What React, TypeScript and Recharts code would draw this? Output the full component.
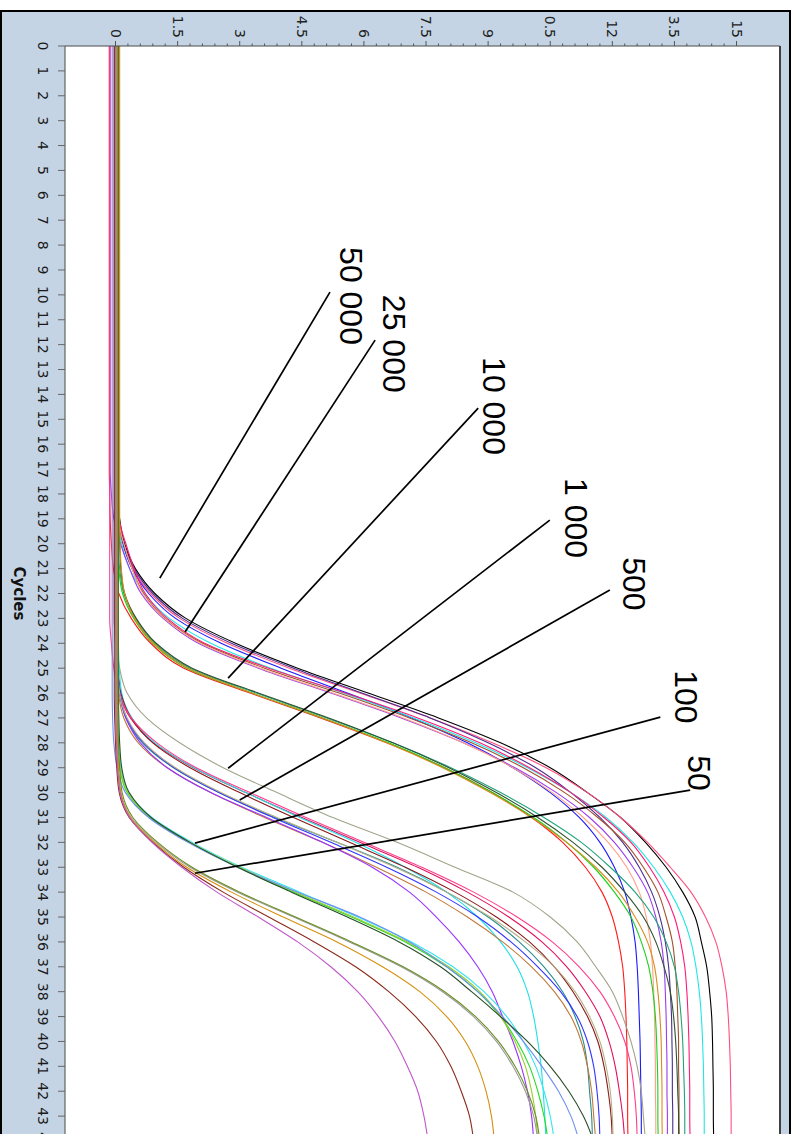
import { LineChart, Line, XAxis, YAxis, CartesianGrid, ReferenceLine, ReferenceDot } from "recharts";

// cycles on the x axis, fluorescence on the y axis (the whole chart is turned 90deg clockwise)
const cycles = [
  0, 1, 2, 3, 4, 5, 6, 7, 8, 9, 10, 11, 12, 13, 14, 15, 16, 17, 18, 19, 20, 21,
  22, 23, 24, 25, 26, 27, 28, 29, 30, 31, 32, 33, 34, 35, 36, 37, 38, 39, 40, 41, 42, 43, 44,
];
const valueTicks = [0, 1.5, 3, 4.5, 6, 7.5, 9, 10.5, 12, 13.5, 15];

// 50 000 / 25 000 / 10 000 copies
const t1 = [0.05,0.05,0.05,0.05,0.05,0.05, 0.05,0.05,0.05,0.05,0.05,0.05, 0.05,0.05,0.05,0.05,0.05,0.05, 0.06,0.1,0.22,0.48,0.95,1.7,2.9,4.4,6.1,7.8,9.3,10.5,11.4,12.2,12.8,13.3,13.7,14.0,14.15,14.28,14.35,14.4,14.42,14.43,14.44,14.44,14.45];
const t2 = [0.02,0.02,0.02,0.02,0.02,0.02, 0.02,0.02,0.02,0.02,0.02,0.02, 0.02,0.02,0.02,0.02,0.02,0.02, 0.04,0.08,0.18,0.42,0.85,1.55,2.7,4.2,5.9,7.6,9.1,10.4,11.4,12.2,12.85,13.4,13.9,14.25,14.5,14.65,14.75,14.8,14.83,14.85,14.86,14.87,14.87];
const t3 = [0,0,0,0,0,0, 0,0,0,0,0,0, 0,0,0,0,0,0, 0.02,0.07,0.18,0.4,0.8,1.45,2.55,4.0,5.6,7.15,8.5,9.6,10.5,11.2,11.7,12.05,12.3,12.45,12.55,12.6,12.63,12.65,12.67,12.68,12.69,12.7,12.7];
const t4 = [0.03,0.03,0.03,0.03,0.03,0.03, 0.03,0.03,0.03,0.03,0.03,0.03, 0.03,0.03,0.03,0.03,0.03,0.03, 0.05,0.09,0.2,0.45,0.9,1.62,2.8,4.3,5.95,7.6,9.0,10.15,11.0,11.7,12.25,12.65,12.95,13.15,13.28,13.36,13.4,13.43,13.44,13.45,13.45,13.46,13.46];
const t5 = [0.04,0.04,0.04,0.04,0.04,0.04, 0.04,0.04,0.04,0.04,0.04,0.04, 0.04,0.04,0.04,0.04,0.04,0.04, 0.05,0.07,0.15,0.34,0.7,1.3,2.3,3.75,5.5,7.2,8.7,9.95,11.0,11.85,12.5,13.0,13.4,13.7,13.9,14.02,14.1,14.15,14.18,14.2,14.21,14.22,14.22];
const t6 = [0.06,0.06,0.06,0.06,0.06,0.06, 0.06,0.06,0.06,0.06,0.06,0.06, 0.06,0.06,0.06,0.06,0.06,0.06, 0.07,0.09,0.25,0.45,0.72,1.25,2.15,3.7,5.55,7.3,8.8,10.0,11.0,11.8,12.45,12.9,13.25,13.5,13.65,13.75,13.8,13.83,13.85,13.86,13.87,13.87,13.88];
const t7 = [0.01,0.01,0.01,0.01,0.01,0.01, 0.01,0.01,0.01,0.01,0.01,0.01, 0.01,0.01,0.01,0.01,0.01,0.01, 0.02,0.05,0.2,0.4,0.68,1.2,2.1,3.6,5.4,7.1,8.6,9.85,10.85,11.65,12.3,12.75,13.1,13.3,13.45,13.52,13.56,13.58,13.6,13.6,13.61,13.61,13.62];
const t8 = [-0.13,-0.13,-0.13,-0.13,-0.13,-0.13, -0.13,-0.13,-0.13,-0.13,-0.13,-0.13, -0.13,-0.13,-0.13,-0.13,-0.13,-0.13, -0.1,-0.04,0.12,0.34,0.62,1.15,2.0,3.45,5.2,6.9,8.4,9.65,10.65,11.45,12.05,12.5,12.85,13.05,13.18,13.25,13.28,13.3,13.31,13.32,13.32,13.33,13.33];
const t9 = [0.04,0.04,0.04,0.04,0.04,0.04, 0.04,0.04,0.04,0.04,0.04,0.04, 0.04,0.04,0.04,0.04,0.04,0.04, 0.05,0.07,0.2,0.4,0.66,1.18,2.05,3.5,5.25,6.95,8.4,9.6,10.55,11.3,11.9,12.35,12.65,12.82,12.92,12.97,13.0,13.02,13.03,13.04,13.04,13.05,13.05];
const t10 = [-0.15,-0.15,-0.15,-0.15,-0.15,-0.15, -0.15,-0.15,-0.15,-0.15,-0.15,-0.15, -0.15,-0.15,-0.15,-0.15,-0.15,-0.15, -0.14,-0.13,-0.1,-0.05,0.08,0.38,0.85,1.65,3.25,4.95,6.55,7.95,9.1,10.05,10.8,11.35,11.75,12.0,12.15,12.25,12.3,12.33,12.35,12.36,12.37,12.37,12.38];
const t11 = [0.02,0.02,0.02,0.02,0.02,0.02, 0.02,0.02,0.02,0.02,0.02,0.02, 0.02,0.02,0.02,0.02,0.02,0.02, 0.03,0.04,0.06,0.1,0.2,0.48,0.95,1.8,3.4,5.1,6.7,8.1,9.3,10.35,11.25,11.95,12.55,13.0,13.3,13.5,13.6,13.66,13.7,13.72,13.74,13.75,13.75];
const t12 = [0.08,0.08,0.08,0.08,0.08,0.08, 0.08,0.08,0.08,0.08,0.08,0.08, 0.08,0.08,0.08,0.08,0.08,0.08, 0.08,0.09,0.1,0.13,0.22,0.5,0.98,1.85,3.45,5.15,6.7,8.05,9.2,10.2,11.05,11.75,12.3,12.75,13.05,13.25,13.4,13.48,13.53,13.56,13.58,13.6,13.6];
const t13 = [0,0,0,0,0,0, 0,0,0,0,0,0, 0,0,0,0,0,0, 0.01,0.02,0.05,0.08,0.17,0.44,0.9,1.72,3.3,5.0,6.6,7.95,9.1,10.1,10.9,11.55,12.05,12.45,12.7,12.88,12.98,13.04,13.07,13.09,13.1,13.1,13.11];
const t14 = [0.1,0.1,0.1,0.1,0.1,0.1, 0.1,0.1,0.1,0.1,0.1,0.1, 0.1,0.1,0.1,0.1,0.1,0.1, 0.1,0.1,0.11,0.14,0.22,0.46,0.92,1.75,3.3,5.0,6.55,7.9,9.05,10.05,10.9,11.6,12.15,12.55,12.85,13.02,13.1,13.15,13.18,13.19,13.2,13.2,13.21];

// 1 000 / 500 copies
const m1 = [0.02,0.02,0.02,0.02,0.02,0.02, 0.02,0.02,0.02,0.02,0.02,0.02, 0.02,0.02,0.02,0.02,0.02,0.02, 0.02,0.02,0.02,0.02,0.02,0.02, 0.04,0.1,0.28,0.75,1.55,2.6,3.9,5.25,6.8,8.2,9.6,10.5,11.15,11.6,12.0,12.25,12.45,12.6,12.7,12.75,12.8];
const m2 = [-0.03,-0.03,-0.03,-0.03,-0.03,-0.03, -0.03,-0.03,-0.03,-0.03,-0.03,-0.03, -0.03,-0.03,-0.03,-0.03,-0.03,-0.03, -0.03,-0.03,-0.03,-0.03,-0.03,-0.03, 0.0,0.03,0.1,0.36,0.92,1.88,3.15,4.5,5.9,7.3,8.5,9.5,10.3,10.9,11.35,11.7,11.92,12.07,12.17,12.25,12.3];
const m3 = [0.06,0.06,0.06,0.06,0.06,0.06, 0.06,0.06,0.06,0.06,0.06,0.06, 0.06,0.06,0.06,0.06,0.06,0.06, 0.06,0.06,0.06,0.06,0.06,0.06, 0.07,0.09,0.15,0.4,0.95,1.9,3.15,4.45,5.8,7.0,8.0,8.75,9.3,9.7,9.95,10.1,10.2,10.28,10.33,10.37,10.4];
const m4 = [0,0,0,0,0,0, 0,0,0,0,0,0, 0,0,0,0,0,0, 0,0,0,0,0,0, 0.02,0.05,0.13,0.38,0.9,1.8,3.0,4.3,5.65,7.0,8.2,9.2,10.0,10.6,11.05,11.4,11.65,11.8,11.9,11.97,12.0];
const m5 = [-0.14,-0.14,-0.14,-0.14,-0.14,-0.14, -0.14,-0.14,-0.14,-0.14,-0.14,-0.14, -0.14,-0.14,-0.14,-0.14,-0.14,-0.14, -0.14,-0.14,-0.14,-0.14,-0.14,-0.14, -0.1,-0.04,0.08,0.38,1.0,1.95,3.25,4.6,6.0,7.4,8.65,9.7,10.55,11.2,11.7,12.05,12.3,12.45,12.53,12.58,12.6];
const m6 = [0.03,0.03,0.03,0.03,0.03,0.03, 0.03,0.03,0.03,0.03,0.03,0.03, 0.03,0.03,0.03,0.03,0.03,0.03, 0.03,0.03,0.03,0.03,0.03,0.03, 0.03,0.05,0.1,0.25,0.65,1.4,2.5,3.85,5.35,6.8,8.0,9.0,9.75,10.35,10.8,11.1,11.3,11.4,11.45,11.5,11.52];
const m7 = [-0.01,-0.01,-0.01,-0.01,-0.01,-0.01, -0.01,-0.01,-0.01,-0.01,-0.01,-0.01, -0.01,-0.01,-0.01,-0.01,-0.01,-0.01, -0.01,-0.01,-0.01,-0.01,-0.01,-0.01, 0.0,0.02,0.07,0.2,0.55,1.25,2.3,3.6,5.0,6.3,7.5,8.5,9.35,10.05,10.6,11.0,11.25,11.4,11.5,11.55,11.6];
const m8 = [0.05,0.05,0.05,0.05,0.05,0.05, 0.05,0.05,0.05,0.05,0.05,0.05, 0.05,0.05,0.05,0.05,0.05,0.05, 0.05,0.05,0.05,0.05,0.05,0.05, 0.05,0.06,0.1,0.25,0.6,1.25,2.3,3.65,5.0,6.2,7.1,7.75,8.3,8.75,9.1,9.35,9.6,9.8,9.95,10.05,10.1];
const m9 = [0.04,0.04,0.04,0.04,0.04,0.04, 0.04,0.04,0.04,0.04,0.04,0.04, 0.04,0.04,0.04,0.04,0.04,0.04, 0.04,0.04,0.04,0.04,0.04,0.04, 0.04,0.06,0.11,0.27,0.68,1.42,2.5,3.8,5.2,6.55,7.75,8.75,9.55,10.2,10.75,11.15,11.4,11.55,11.63,11.68,11.7];
const m10 = [0.03,0.03,0.03,0.03,0.03,0.03, 0.03,0.03,0.03,0.03,0.03,0.03, 0.03,0.03,0.03,0.03,0.03,0.03, 0.03,0.03,0.03,0.03,0.03,0.03, 0.03,0.05,0.1,0.28,0.7,1.45,2.55,3.9,5.35,6.75,8.0,9.05,9.9,10.6,11.1,11.45,11.7,11.85,11.95,12.0,12.02];

// 100 / 50 copies
const b1 = [0.05,0.05,0.05,0.05,0.05,0.05, 0.05,0.05,0.05,0.05,0.05,0.05, 0.05,0.05,0.05,0.05,0.05,0.05, 0.05,0.05,0.05,0.05,0.05,0.05, 0.05,0.05,0.05, 0.06,0.08,0.13,0.32,0.88,1.85,3.05,4.45,5.85,7.15,8.15,8.9,9.45,9.85,10.15,10.35,10.5,10.6];
const b2 = [0,0,0,0,0,0, 0,0,0,0,0,0, 0,0,0,0,0,0, 0,0,0,0,0,0, 0,0,0, 0.01,0.03,0.1,0.28,0.82,1.78,2.95,4.3,5.7,7.0,8.0,8.75,9.3,9.7,10.0,10.2,10.35,10.45];
const b3 = [0.03,0.03,0.03,0.03,0.03,0.03, 0.03,0.03,0.03,0.03,0.03,0.03, 0.03,0.03,0.03,0.03,0.03,0.03, 0.03,0.03,0.03,0.03,0.03,0.03, 0.03,0.03,0.03, 0.04,0.06,0.11,0.3,0.84,1.8,3.0,4.35,5.75,7.05,8.05,8.8,9.3,9.65,9.9,10.05,10.15,10.2];
const b4 = [-0.08,-0.08,-0.08,-0.08,-0.08,-0.08, -0.08,-0.08,-0.08,-0.08,-0.08,-0.08, -0.08,-0.08,-0.08,-0.08,-0.08,-0.08, -0.08,-0.08,-0.08,-0.08,-0.08,-0.08, -0.08,-0.08,-0.08, -0.07,-0.04,0.04,0.24,0.8,1.75,2.95,4.4,5.9,7.1,8.0,8.75,9.35,9.85,10.3,10.7,11.0,11.2];
const b5 = [0.07,0.07,0.07,0.07,0.07,0.07, 0.07,0.07,0.07,0.07,0.07,0.07, 0.07,0.07,0.07,0.07,0.07,0.07, 0.07,0.07,0.07,0.07,0.07,0.07, 0.07,0.07,0.07, 0.08,0.1,0.15,0.33,0.86,1.8,2.95,4.25,5.6,6.85,7.85,8.6,9.3,9.95,10.5,10.95,11.3,11.55];
const b6 = [0.02,0.02,0.02,0.02,0.02,0.02, 0.02,0.02,0.02,0.02,0.02,0.02, 0.02,0.02,0.02,0.02,0.02,0.02, 0.02,0.02,0.02,0.02,0.02,0.02, 0.02,0.02,0.02, 0.02,0.03,0.06,0.12,0.38,0.98,1.8,2.95,4.3,5.65,6.9,7.9,8.65,9.2,9.6,9.9,10.1,10.2];
const b7 = [0.04,0.04,0.04,0.04,0.04,0.04, 0.04,0.04,0.04,0.04,0.04,0.04, 0.04,0.04,0.04,0.04,0.04,0.04, 0.04,0.04,0.04,0.04,0.04,0.04, 0.04,0.04,0.04, 0.04,0.05,0.07,0.13,0.36,0.94,1.72,2.8,4.05,5.35,6.45,7.35,8.0,8.45,8.75,8.95,9.08,9.15];
const b8 = [-0.03,-0.03,-0.03,-0.03,-0.03,-0.03, -0.03,-0.03,-0.03,-0.03,-0.03,-0.03, -0.03,-0.03,-0.03,-0.03,-0.03,-0.03, -0.03,-0.03,-0.03,-0.03,-0.03,-0.03, -0.03,-0.03,-0.03, -0.02,0.0,0.03,0.09,0.33,0.9,1.65,2.6,3.7,4.8,5.8,6.6,7.25,7.75,8.1,8.35,8.55,8.65];
const b9 = [0.01,0.01,0.01,0.01,0.01,0.01, 0.01,0.01,0.01,0.01,0.01,0.01, 0.01,0.01,0.01,0.01,0.01,0.01, 0.01,0.01,0.01,0.01,0.01,0.01, 0.01,0.01,0.01, 0.01,0.02,0.05,0.11,0.34,0.88,1.6,2.45,3.45,4.4,5.2,5.85,6.35,6.75,7.05,7.3,7.45,7.55];
const b10 = [0.06,0.06,0.06,0.06,0.06,0.06, 0.06,0.06,0.06,0.06,0.06,0.06, 0.06,0.06,0.06,0.06,0.06,0.06, 0.06,0.06,0.06,0.06,0.06,0.06, 0.06,0.06,0.06, 0.06,0.07,0.1,0.16,0.42,1.02,1.85,3.0,4.35,5.7,6.95,7.95,8.7,9.25,9.65,9.95,10.15,10.25];

const series = [
  { key: "t1", color: "#000000", values: t1 },
  { key: "t2", color: "#ff4f81", values: t2 },
  { key: "t3", color: "#1a1aff", values: t3 },
  { key: "t4", color: "#4b2d8f", values: t4 },
  { key: "t5", color: "#22e6e6", values: t5 },
  { key: "t6", color: "#ff1a75", values: t6 },
  { key: "t7", color: "#a0522d", values: t7 },
  { key: "t8", color: "#9a3cf0", values: t8 },
  { key: "t9", color: "#ffa088", values: t9 },
  { key: "t10", color: "#ff1a1a", values: t10 },
  { key: "t11", color: "#1fa37a", values: t11 },
  { key: "t12", color: "#2e5230", values: t12 },
  { key: "t13", color: "#19d119", values: t13 },
  { key: "t14", color: "#d98c1a", values: t14 },
  { key: "m1", color: "#a3a38a", values: m1 },
  { key: "m2", color: "#e0105a", values: m2 },
  { key: "m3", color: "#20e0e8", values: m3 },
  { key: "m4", color: "#8b1a1a", values: m4 },
  { key: "m5", color: "#ff3d8b", values: m5 },
  { key: "m6", color: "#2a8c8c", values: m6 },
  { key: "m7", color: "#c0783a", values: m7 },
  { key: "m8", color: "#9933ff", values: m8 },
  { key: "m9", color: "#3333ff", values: m9 },
  { key: "m10", color: "#b8b088", values: m10 },
  { key: "b1", color: "#33e5ef", values: b1 },
  { key: "b2", color: "#22dd22", values: b2 },
  { key: "b3", color: "#9acd32", values: b3 },
  { key: "b4", color: "#6d8ff0", values: b4 },
  { key: "b5", color: "#284d28", values: b5 },
  { key: "b6", color: "#9a9a9a", values: b6 },
  { key: "b7", color: "#d4900f", values: b7 },
  { key: "b8", color: "#8b2a1a", values: b8 },
  { key: "b9", color: "#c058c8", values: b9 },
  { key: "b10", color: "#6b8e23", values: b10 },
];

const rows = cycles.map((cycle, i) => {
  const row: Record<string, number> = { cycle };
  series.forEach((s) => {
    row[s.key] = s.values[i];
  });
  return row;
});

// major ticks plus four minor ticks between them
const allValueTicks = valueTicks.flatMap((t, i) =>
  i === valueTicks.length - 1 ? [t] : [0, 0.3, 0.6, 0.9, 1.2].map((d) => Math.round((t + d) * 100) / 100)
);

// concentration labels, pointer lines (cycle, value)
const annotations = [
  { text: "50 000", from: [21.38, 1.07], to: [9.89, 5.18], at: [8.08, 5.42] },
  { text: "25 000", from: [23.55, 1.68], to: [11.82, 6.27], at: [10.0, 6.46] },
  { text: "10 000", from: [25.4, 2.72], to: [14.55, 8.76], at: [12.5, 8.88] },
  { text: "1 000", from: [29.02, 2.72], to: [19.05, 10.49], at: [17.36, 10.86] },
  { text: "500", from: [30.3, 3.0], to: [21.86, 11.94], at: [20.54, 12.26] },
  { text: "100", from: [32.03, 1.92], to: [26.97, 13.16], at: [25.08, 13.51] },
  { text: "50", from: [33.24, 1.92], to: [29.9, 13.88], at: [28.5, 13.83] },
];

const FRAME_W = 1143;
const FRAME_H = 791;

function ValueTick(props: any) {
  const { x, y, payload } = props;
  const v = payload.value;
  const major = Math.abs(v / 1.5 - Math.round(v / 1.5)) < 1e-6;
  return (
    <g>
      <line x1={x} x2={x - (major ? 5 : 2.5)} y1={y} y2={y} stroke="#555" strokeWidth={1} />
      {major && (
        <text
          x={x - 8}
          y={y}
          textAnchor="end"
          dominantBaseline="central"
          fontSize={14}
          fontFamily="DejaVu Sans"
          fill="#222"
          clipPath="url(#valueTickClip)"
        >
          {String(v)}
        </text>
      )}
    </g>
  );
}

function CycleTick(props: any) {
  const { x, y, payload } = props;
  return (
    <text x={x} y={y + 15} textAnchor="middle" dominantBaseline="central" fontSize={14} fontFamily="DejaVu Sans" fill="#1a1a1a">
      {payload.value}
    </text>
  );
}

export default function App() {
  return (
    <div style={{ position: "absolute", left: 0, top: 10, width: FRAME_H, height: 1124, overflow: "hidden" }}>
      <svg width={0} height={0} style={{ position: "absolute" }}>
        <defs>
          <clipPath id="valueTickClip" clipPathUnits="userSpaceOnUse">
            <rect x={4} y={-50} width={200} height={900} />
          </clipPath>
        </defs>
      </svg>
      <div
        style={{
          position: "absolute",
          left: 0,
          top: 0,
          width: FRAME_W,
          height: FRAME_H,
          boxSizing: "border-box",
          border: "2px solid #000",
          background: "#c4d4e4",
          transformOrigin: "0 0",
          transform: `translateX(${FRAME_H}px) rotate(90deg)`,
        }}
      >
        <LineChart width={FRAME_W - 4} height={FRAME_H - 4} data={rows} margin={{ top: 9, right: 10, bottom: 0, left: 0 }}>
          <CartesianGrid horizontal={false} vertical={false} fill="#ffffff" />
          <XAxis
            dataKey="cycle"
            type="number"
            domain={[0, 44]}
            ticks={cycles}
            interval={0}
            allowDataOverflow
            height={63}
            tickSize={7}
            tickMargin={0}
            stroke="#4a4a4a"
            tickLine={{ stroke: "#666" }}
            tick={(p: any) => <CycleTick {...p} />}
            label={{
              value: "Cycles",
              position: "insideBottom",
              offset: 12,
              fill: "#111",
              fontSize: 15,
              fontWeight: "bold",
              fontFamily: "DejaVu Sans",
            }}
          />
          <YAxis
            type="number"
            domain={[-1.22, 16.05]}
            ticks={allValueTicks}
            interval={0}
            allowDataOverflow
            width={34}
            tickSize={0}
            tickMargin={0}
            tickLine={false}
            stroke="#4a4a4a"
            tick={(p: any) => <ValueTick {...p} />}
          />
          <ReferenceLine y={16.05} stroke="#404040" strokeWidth={2} />
          {series.map((s) => (
            <Line
              key={s.key}
              type="monotone"
              dataKey={s.key}
              stroke={s.color}
              strokeWidth={1.1}
              dot={false}
              activeDot={false}
              isAnimationActive={false}
            />
          ))}
          {annotations.map((a) => (
            <ReferenceLine
              key={a.text + "-line"}
              segment={[
                { x: a.from[0], y: a.from[1] },
                { x: a.to[0], y: a.to[1] },
              ]}
              stroke="#000"
              strokeWidth={1.7}
              ifOverflow="visible"
            />
          ))}
          {annotations.map((a) => (
            <ReferenceDot
              key={a.text + "-label"}
              x={a.at[0]}
              y={a.at[1]}
              r={0}
              ifOverflow="visible"
              shape={(p: any) => (
                <text x={p.cx} y={p.cy} textAnchor="start" fontSize={32} fontFamily="Liberation Sans" fill="#000">
                  {a.text}
                </text>
              )}
            />
          ))}
        </LineChart>
      </div>
    </div>
  );
}
